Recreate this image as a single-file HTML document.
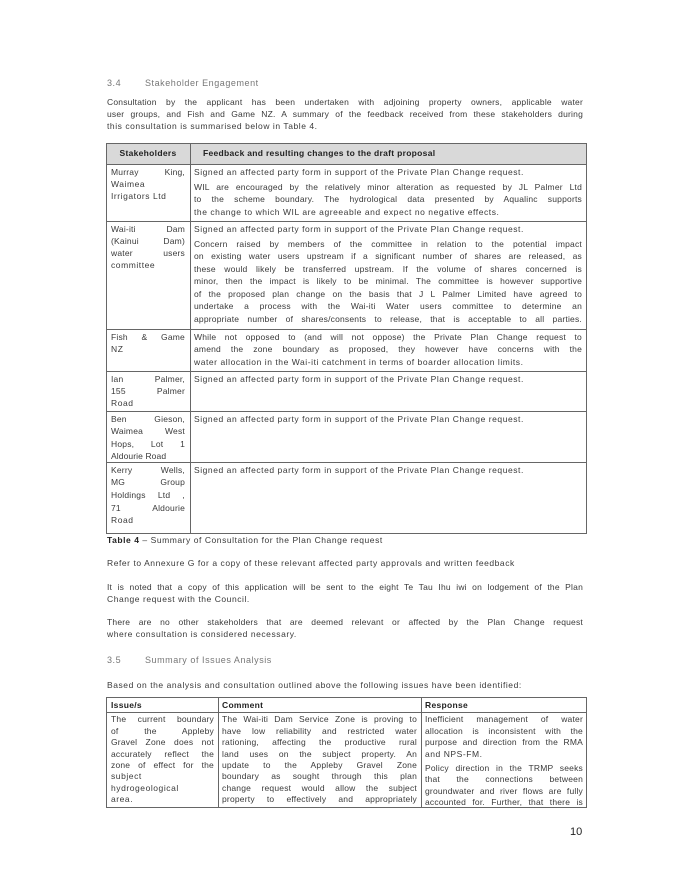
<!DOCTYPE html>
<html><head><meta charset="utf-8"><style>
body{margin:0;background:#fff;}
#p{position:relative;width:690px;height:894px;overflow:hidden;font-family:"Liberation Sans",sans-serif;color:#3a3a3a;font-size:8.5px;letter-spacing:0.55px;}
.l{position:absolute;height:12px;line-height:12px;white-space:nowrap;}
.j{text-align:justify;text-align-last:justify;white-space:normal;overflow:hidden;letter-spacing:0.2px;}
.b{font-weight:bold;color:#222;letter-spacing:0.3px;}
.h{color:#777;font-size:9px;}
.r{position:absolute;background:#666;}
</style></head><body><div id="p">
<div class="l h" style="left:107px;top:77px">3.4</div>
<div class="l h" style="left:145px;top:77px">Stakeholder Engagement</div>
<div class="l j" style="left:107px;top:96px;width:476px">Consultation by the applicant has been undertaken with adjoining property owners, applicable water</div>
<div class="l j" style="left:107px;top:108px;width:476px">user groups, and Fish and Game NZ. A summary of the feedback received from these stakeholders during</div>
<div class="l" style="left:107px;top:120px">this consultation is summarised below in Table 4.</div>

<div style="position:absolute;left:106px;top:143px;width:481px;height:21px;background:#d9d9d9"></div>
<div class="r" style="left:106px;top:143px;width:481px;height:1px"></div>
<div class="r" style="left:106px;top:164px;width:481px;height:1px"></div>
<div class="r" style="left:106px;top:221px;width:481px;height:1px"></div>
<div class="r" style="left:106px;top:329px;width:481px;height:1px"></div>
<div class="r" style="left:106px;top:371px;width:481px;height:1px"></div>
<div class="r" style="left:106px;top:411px;width:481px;height:1px"></div>
<div class="r" style="left:106px;top:462px;width:481px;height:1px"></div>
<div class="r" style="left:106px;top:533px;width:481px;height:1px"></div>
<div class="r" style="left:106px;top:143px;width:1px;height:391px"></div>
<div class="r" style="left:190px;top:143px;width:1px;height:391px"></div>
<div class="r" style="left:586px;top:143px;width:1px;height:391px"></div>

<div class="l b" style="left:106px;top:147px;width:84px;text-align:center">Stakeholders</div>
<div class="l b" style="left:203px;top:147px">Feedback and resulting changes to the draft proposal</div>

<div class="l j" style="left:111px;top:166px;width:74px">Murray King,</div>
<div class="l" style="left:111px;top:178px">Waimea</div>
<div class="l" style="left:111px;top:190px">Irrigators Ltd</div>
<div class="l" style="left:194px;top:166px">Signed an affected party form in support of the Private Plan Change request.</div>
<div class="l j" style="left:194px;top:181px;width:388px">WIL are encouraged by the relatively minor alteration as requested by JL Palmer Ltd</div>
<div class="l j" style="left:194px;top:193px;width:388px">to the scheme boundary. The hydrological data presented by Aqualinc supports</div>
<div class="l" style="left:194px;top:206px">the change to which WIL are agreeable and expect no negative effects.</div>

<div class="l j" style="left:111px;top:223px;width:74px">Wai-iti Dam</div>
<div class="l j" style="left:111px;top:235px;width:74px">(Kainui Dam)</div>
<div class="l j" style="left:111px;top:247px;width:74px">water users</div>
<div class="l" style="left:111px;top:259px">committee</div>
<div class="l" style="left:194px;top:223px">Signed an affected party form in support of the Private Plan Change request.</div>
<div class="l j" style="left:194px;top:238px;width:388px">Concern raised by members of the committee in relation to the potential impact</div>
<div class="l j" style="left:194px;top:250px;width:388px">on existing water users upstream if a significant number of shares are released, as</div>
<div class="l j" style="left:194px;top:263px;width:388px">these would likely be transferred upstream. If the volume of shares concerned is</div>
<div class="l j" style="left:194px;top:275px;width:388px">minor, then the impact is likely to be minimal. The committee is however supportive</div>
<div class="l j" style="left:194px;top:288px;width:388px">of the proposed plan change on the basis that J L Palmer Limited have agreed to</div>
<div class="l j" style="left:194px;top:300px;width:388px">undertake a process with the Wai-iti Water users committee to determine an</div>
<div class="l j" style="left:194px;top:313px;width:388px">appropriate number of shares/consents to release, that is acceptable to all parties.</div>

<div class="l j" style="left:111px;top:331px;width:74px">Fish &amp; Game</div>
<div class="l" style="left:111px;top:343px">NZ</div>
<div class="l j" style="left:194px;top:331px;width:388px">While not opposed to (and will not oppose) the Private Plan Change request to</div>
<div class="l j" style="left:194px;top:343px;width:388px">amend the zone boundary as proposed, they however have concerns with the</div>
<div class="l" style="left:194px;top:356px">water allocation in the Wai-iti catchment in terms of boarder allocation limits.</div>

<div class="l j" style="left:111px;top:373px;width:74px">Ian Palmer,</div>
<div class="l j" style="left:111px;top:385px;width:74px">155 Palmer</div>
<div class="l" style="left:111px;top:397px">Road</div>
<div class="l" style="left:194px;top:373px">Signed an affected party form in support of the Private Plan Change request.</div>

<div class="l j" style="left:111px;top:413px;width:74px">Ben Gieson,</div>
<div class="l j" style="left:111px;top:425px;width:74px">Waimea West</div>
<div class="l j" style="left:111px;top:438px;width:74px">Hops, Lot 1</div>
<div class="l" style="left:111px;top:450px;letter-spacing:0.1px">Aldourie Road</div>
<div class="l" style="left:194px;top:413px">Signed an affected party form in support of the Private Plan Change request.</div>

<div class="l j" style="left:111px;top:464px;width:74px">Kerry Wells,</div>
<div class="l j" style="left:111px;top:476px;width:74px">MG Group</div>
<div class="l j" style="left:111px;top:489px;width:74px">Holdings Ltd ,</div>
<div class="l j" style="left:111px;top:502px;width:74px">71 Aldourie</div>
<div class="l" style="left:111px;top:514px">Road</div>
<div class="l" style="left:194px;top:464px">Signed an affected party form in support of the Private Plan Change request.</div>

<div class="l" style="left:107px;top:534px"><b style="color:#222">Table 4</b> – Summary of Consultation for the Plan Change request</div>
<div class="l" style="left:107px;top:557px">Refer to Annexure G for a copy of these relevant affected party approvals and written feedback</div>
<div class="l j" style="left:107px;top:581px;width:476px">It is noted that a copy of this application will be sent to the eight Te Tau Ihu iwi on lodgement of the Plan</div>
<div class="l" style="left:107px;top:593px">Change request with the Council.</div>
<div class="l j" style="left:107px;top:616px;width:476px">There are no other stakeholders that are deemed relevant or affected by the Plan Change request</div>
<div class="l" style="left:107px;top:628px">where consultation is considered necessary.</div>
<div class="l h" style="left:107px;top:654px">3.5</div>
<div class="l h" style="left:145px;top:654px">Summary of Issues Analysis</div>
<div class="l" style="left:107px;top:679px">Based on the analysis and consultation outlined above the following issues have been identified:</div>

<div class="r" style="left:106px;top:697px;width:481px;height:1px"></div>
<div class="r" style="left:106px;top:712px;width:481px;height:1px"></div>
<div class="r" style="left:106px;top:807px;width:481px;height:1px"></div>
<div class="r" style="left:106px;top:697px;width:1px;height:111px"></div>
<div class="r" style="left:218px;top:697px;width:1px;height:111px"></div>
<div class="r" style="left:421px;top:697px;width:1px;height:111px"></div>
<div class="r" style="left:586px;top:697px;width:1px;height:111px"></div>
<div class="l b" style="left:111px;top:699px">Issue/s</div>
<div class="l b" style="left:222px;top:699px">Comment</div>
<div class="l b" style="left:425px;top:699px">Response</div>

<div class="l j" style="left:111px;top:713px;width:103px">The current boundary</div>
<div class="l j" style="left:111px;top:725px;width:103px">of the Appleby</div>
<div class="l j" style="left:111px;top:736px;width:103px">Gravel Zone does not</div>
<div class="l j" style="left:111px;top:748px;width:103px">accurately reflect the</div>
<div class="l j" style="left:111px;top:759px;width:103px">zone of effect for the</div>
<div class="l" style="left:111px;top:770px">subject</div>
<div class="l" style="left:111px;top:782px">hydrogeological</div>
<div class="l" style="left:111px;top:793px">area.</div>

<div class="l j" style="left:222px;top:713px;width:195px">The Wai-iti Dam Service Zone is proving to</div>
<div class="l j" style="left:222px;top:725px;width:195px">have low reliability and restricted water</div>
<div class="l j" style="left:222px;top:736px;width:195px">rationing, affecting the productive rural</div>
<div class="l j" style="left:222px;top:748px;width:195px">land uses on the subject property. An</div>
<div class="l j" style="left:222px;top:759px;width:195px">update to the Appleby Gravel Zone</div>
<div class="l j" style="left:222px;top:770px;width:195px">boundary as sought through this plan</div>
<div class="l j" style="left:222px;top:782px;width:195px">change request would allow the subject</div>
<div class="l j" style="left:222px;top:793px;width:195px">property to effectively and appropriately</div>

<div class="l j" style="left:425px;top:713px;width:158px">Inefficient management of water</div>
<div class="l j" style="left:425px;top:725px;width:158px">allocation is inconsistent with the</div>
<div class="l j" style="left:425px;top:736px;width:158px">purpose and direction from the RMA</div>
<div class="l" style="left:425px;top:748px">and NPS-FM.</div>
<div class="l j" style="left:425px;top:762px;width:158px">Policy direction in the TRMP seeks</div>
<div class="l j" style="left:425px;top:773px;width:158px">that the connections between</div>
<div class="l j" style="left:425px;top:785px;width:158px">groundwater and river flows are fully</div>
<div class="l j" style="left:425px;top:796px;width:158px">accounted for. Further, that there is</div>

<div class="l" style="left:570px;top:826px;font-size:11px;color:#222;letter-spacing:0">10</div>
</div></body></html>
